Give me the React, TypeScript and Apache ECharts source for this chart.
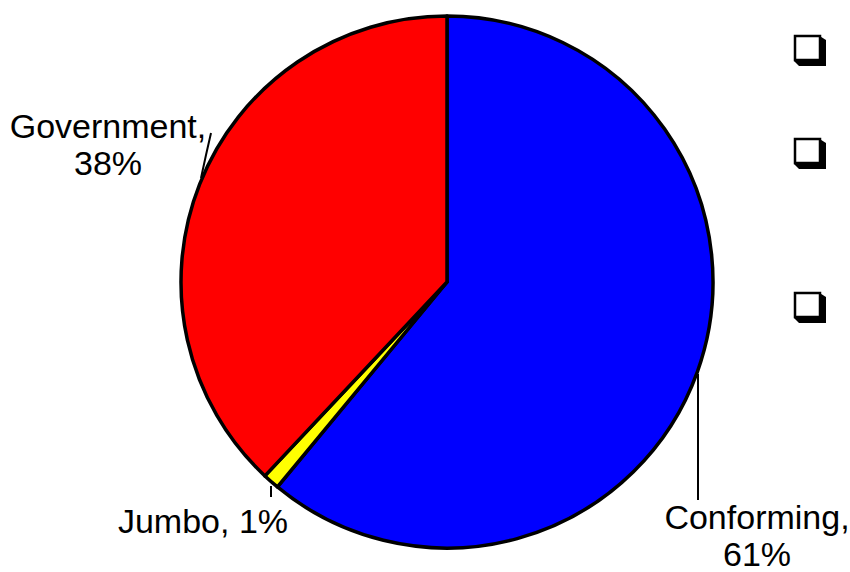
import React, { useEffect, useRef } from "react";
import * as echarts from "echarts";

const categories = ["Conforming", "Jumbo", "Government"];
const values = [61, 1, 38];
const colors = ["#0000FF", "#FFFF00", "#FF0000"];
const checkboxTops = [35, 138, 292];

export default function App() {
  const ref = useRef<HTMLDivElement>(null);
  useEffect(() => {
    if (!ref.current) return;
    const chart = echarts.init(ref.current, null, { renderer: "svg" });
    const font = "'Liberation Sans', Arial, sans-serif";
    const labelPos: Record<string, any> = {
      Conforming: { x: 757, y: 535, line: [[698, 374], [698, 440], [698, 500]] },
      Jumbo: { x: 203, y: 521, line: [[271, 486], [271, 491], [271, 497]] },
      Government: { x: 108, y: 144, line: [[201, 178], [206, 155], [211, 133]] },
    };
    const graphics: any[] = [];
    checkboxTops.forEach((t) => {
      graphics.push({
        type: "polygon",
        shape: {
          points: [
            [818, t],
            [826, t + 5],
            [826, t + 31],
            [799, t + 31],
            [794, t + 26],
          ],
        },
        style: { fill: "#000" },
        z: 10,
      });
      graphics.push({
        type: "rect",
        shape: { x: 795, y: t + 1, width: 25, height: 24 },
        style: { fill: "#fff", stroke: "#000", lineWidth: 2.5 },
        z: 11,
      });
    });
    chart.setOption({
      animation: false,
      backgroundColor: "#fff",
      graphic: graphics,
      series: [
        {
          type: "pie",
          center: [447, 282],
          radius: 266,
          startAngle: 90,
          clockwise: true,
          data: categories.map((c, i) => ({
            name: c,
            value: values[i],
            itemStyle: { color: colors[i] },
          })),
          itemStyle: { borderColor: "#000", borderWidth: 3.5 },
          label: {
            show: true,
            color: "#000",
            fontFamily: font,
            fontSize: 34,
            lineHeight: 37,
            align: "center",
            overflow: "none",
            width: 300,
            formatter: (p: any) =>
              p.name === "Jumbo" ? `${p.name}, ${p.value}%` : `${p.name},\n${p.value}%`,
          },
          labelLine: {
            show: true,
            lineStyle: { color: "#000", width: 2 },
          },
          labelLayout: (params: any) => {
            const name = categories[params.dataIndex];
            const lp = labelPos[name];
            return {
              x: lp.x,
              y: lp.y,
              align: "center",
              verticalAlign: "middle",
              labelLinePoints: lp.line,
            };
          },
          emphasis: { disabled: true },
        },
      ],
    });
    return () => chart.dispose();
  }, []);
  return (
    <div
      ref={ref}
      style={{ position: "absolute", left: 0, top: 0, width: 850, height: 572 }}
    />
  );
}
